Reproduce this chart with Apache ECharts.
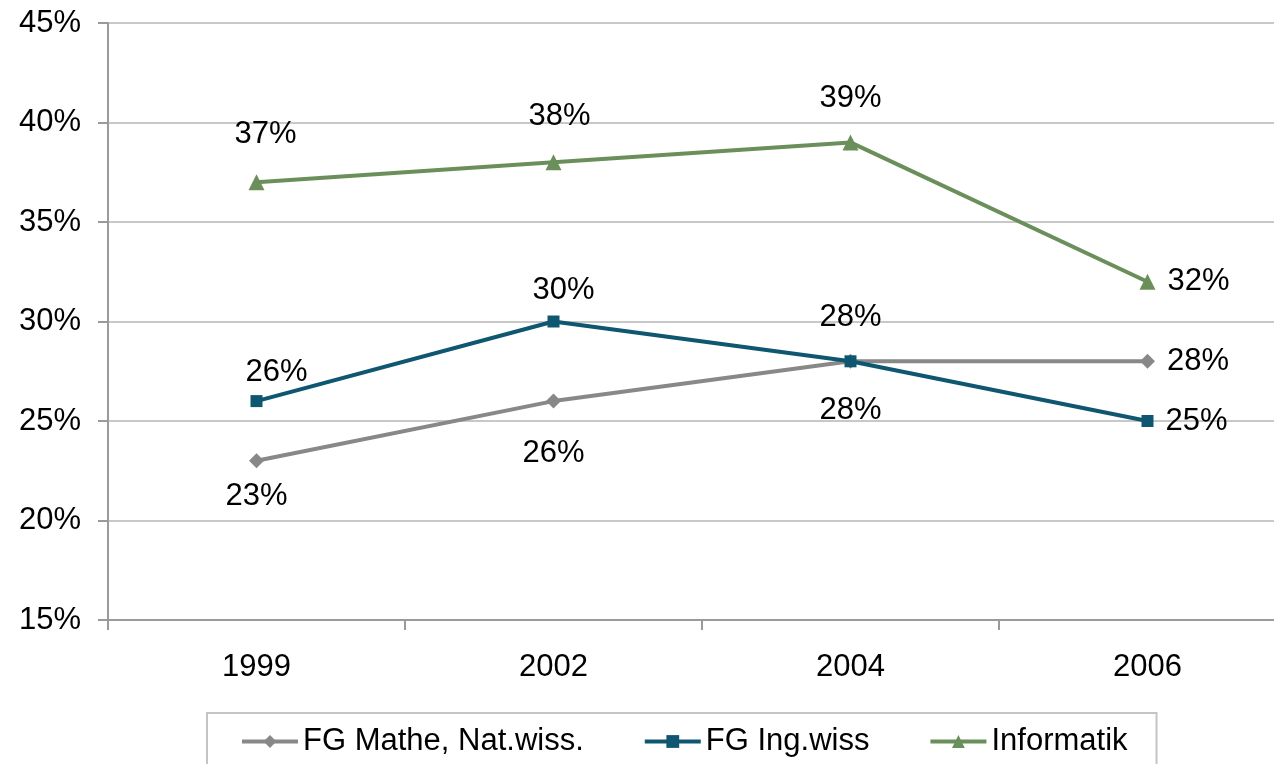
<!DOCTYPE html>
<html>
<head>
<meta charset="utf-8">
<script src="https://cdn.jsdelivr.net/npm/echarts@6/dist/echarts.min.js"></script>
<style>
html,body{margin:0;padding:0;background:#fff;overflow:hidden;}
#chart{width:1296px;height:764px;}
</style>
</head>
<body>
<div id="chart"></div>
<script>
var categories = ['1999', '2002', '2004', '2006'];
var seriesNames = ['FG Mathe, Nat.wiss.', 'FG Ing.wiss', 'Informatik'];
var matheValues = [23, 26, 28, 28];
var ingValues = [26, 30, 28, 25];
var informatikValues = [37, 38, 39, 32];
var yTicks = [15, 20, 25, 30, 35, 40, 45];

// label placement per point (style, not data)
var labelCfg = [
  [{p:'bottom',d:13,o:[0,0]},{p:'bottom',d:29,o:[0,0]},{p:'bottom',d:26,o:[0,0]},{p:'right',d:12,o:[0,0]}],
  [{p:'top',d:7,o:[20,0]},{p:'top',d:10,o:[10,0]},{p:'top',d:22,o:[0,0]},{p:'right',d:12,o:[0,0]}],
  [{p:'top',d:24,o:[9,0]},{p:'top',d:22,o:[6,0]},{p:'top',d:20,o:[0,0]},{p:'right',d:12,o:[0,0]}]
];

function buildData(vals, cfg){
  return vals.map(function(v,i){
    return {value:v, label:{position:cfg[i].p, distance:cfg[i].d, offset:cfg[i].o}};
  });
}

var colors = ['#888888', '#0f5670', '#6b8f5a'];
var symbols = ['diamond', 'rect', 'triangle'];
var symbolSizes = [15, 12, 16];
var allValues = [matheValues, ingValues, informatikValues];

var FONT = '"Liberation Sans", Arial, sans-serif';

var series = seriesNames.map(function(name, k){
  return {
    name: name,
    type: 'line',
    data: buildData(allValues[k], labelCfg[k]),
    symbol: symbols[k],
    symbolSize: symbolSizes[k],
    showAllSymbol: true,
    lineStyle: {color: colors[k], width: 4},
    itemStyle: {color: colors[k]},
    label: {
      show: true,
      formatter: '{c}%',
      color: '#000',
      fontFamily: FONT,
      fontSize: 31
    },
    z: 2 + k,
    animation: false
  };
});

var chart = echarts.init(document.getElementById('chart'), null, {renderer:'canvas', width:1296, height:764});
chart.setOption({
  backgroundColor: '#ffffff',
  animation: false,
  textStyle: {fontFamily: FONT},
  grid: {left: 108, top: 23, right: 0, bottom: 144, containLabel: false},
  xAxis: {
    type: 'category',
    data: categories,
    boundaryGap: true,
    axisLine: {show: true, lineStyle: {color: '#9a9a9a', width: 2}},
    axisTick: {show: true, length: 10, alignWithLabel: false, lineStyle: {color: '#9a9a9a', width: 2}},
    axisLabel: {color: '#000', fontSize: 31, fontFamily: FONT, margin: 32},
    splitLine: {show: false}
  },
  yAxis: {
    type: 'value',
    min: yTicks[0],
    max: yTicks[yTicks.length - 1],
    interval: yTicks[1] - yTicks[0],
    axisLine: {show: true, lineStyle: {color: '#9a9a9a', width: 2}},
    axisTick: {show: true, length: 10, lineStyle: {color: '#9a9a9a', width: 2}},
    axisLabel: {color: '#000', fontSize: 31, fontFamily: FONT, margin: 27, formatter: '{value}%'},
    splitLine: {show: true, lineStyle: {color: '#c8c8c8', width: 2}}
  },
  legend: {
    data: seriesNames,
    left: 207,
    top: 713,
    orient: 'horizontal',
    padding: [13, 29, 40, 33],
    itemGap: 59,
    itemWidth: 56,
    itemHeight: 16,
    lineStyle: {width: 4},
    borderColor: '#c4c4c4',
    borderWidth: 2,
    textStyle: {color: '#000', fontSize: 31, fontFamily: FONT, padding: [0,0,0,0]}
  },
  series: series
});
</script>
</body>
</html>
